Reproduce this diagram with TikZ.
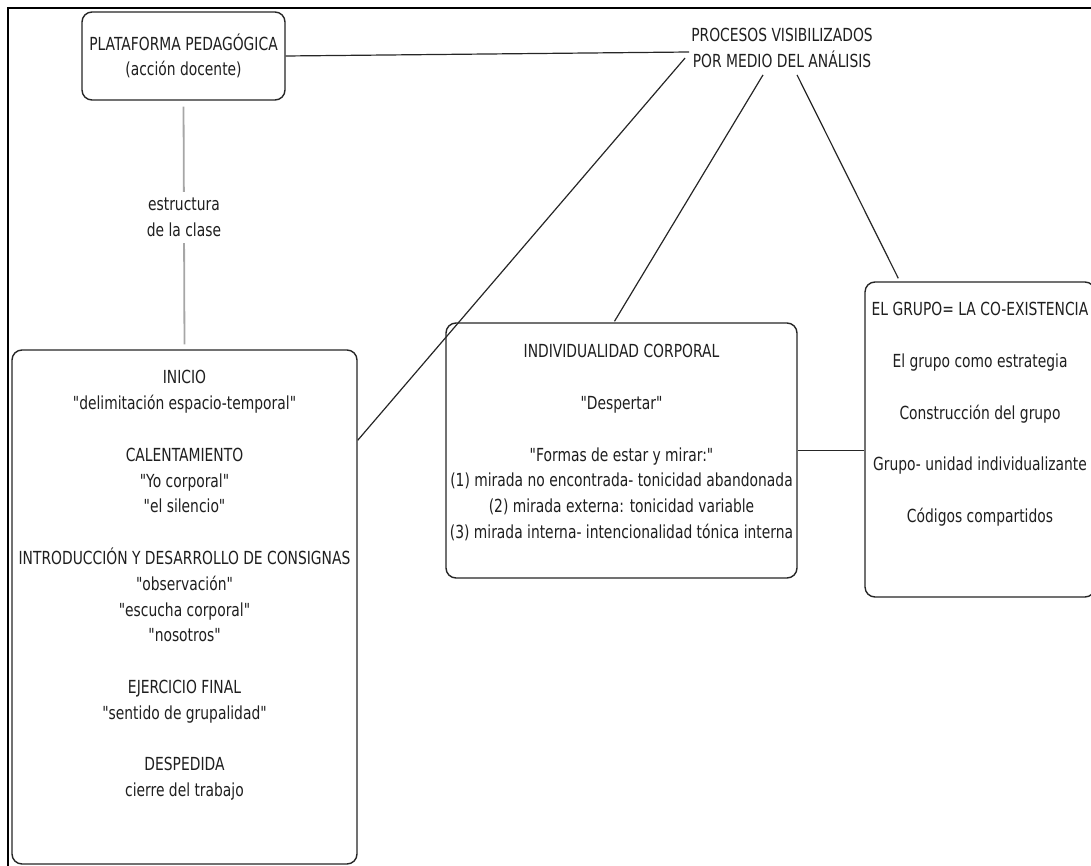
\documentclass[tikz,border=0pt]{standalone}
\usepackage{fontspec}
\setmainfont{DejaVu Sans}[FakeStretch=0.77, Ligatures=TeXOff]
\usetikzlibrary{calc}
\tikzset{
  box/.style={draw=black!85, line width=1.4pt, rounded corners=10pt, fill=white, inner sep=0pt},
  txt/.style={align=center, inner sep=0pt, text=black!88, font=\fontsize{18}{25.8}\selectfont},
  conn/.style={draw=black!85, line width=1.2pt},
  greyconn/.style={draw=black!35, line width=1.8pt}
}
\begin{document}
\begin{tikzpicture}[x=1pt,y=-1pt]
\useasboundingbox (0,0) rectangle (1091,866);
% outer frame
\draw[line width=2pt, black] (8,880) -- (8,8) -- (1100,8);

% boxes
\node[box, minimum width=203pt, minimum height=88pt] (plat) at (183.5,56) {};
\node[txt, anchor=north] (plattext) at ($(plat.north)+(0,22)$) {PLATAFORMA PEDAGÓGICA\\(acción docente)};

\node[txt, inner sep=2pt] (proc) at (782,48) {PROCESOS VISIBILIZADOS\\POR MEDIO DEL ANÁLISIS};

\node[box, minimum width=345pt, minimum height=514pt] (left) at (184.5,607) {};
\node[txt, anchor=north] (lefttext) at ($(left.north)+(0,21)$) {INICIO\\"delimitación espacio-temporal"\\[25.8pt]
CALENTAMIENTO\\"Yo corporal"\\"el silencio"\\[25.8pt]
INTRODUCCIÓN Y DESARROLLO DE CONSIGNAS\\"observación"\\"escucha corporal"\\"nosotros"\\[25.8pt]
EJERCICIO FINAL\\"sentido de grupalidad"\\[25.8pt]
DESPEDIDA\\cierre del trabajo};

\node[box, minimum width=351pt, minimum height=255pt] (indiv) at (621.5,450.5) {};
\node[txt, anchor=north] (indivtext) at ($(indiv.north)+(0,22)$) {INDIVIDUALIDAD CORPORAL\\[25.8pt]
"Despertar"\\[25.8pt]
"Formas de estar y mirar:"\\(1) mirada no encontrada- tonicidad abandonada\\(2) mirada externa: tonicidad variable\\(3) mirada interna- intencionalidad tónica interna};

\node[box, minimum width=230pt, minimum height=315pt] (grp) at (980,439.5) {};
\node[txt, anchor=north] (grptext) at ($(grp.north)+(0,21)$) {EL GRUPO= LA CO-EXISTENCIA\\[25.8pt]
El grupo como estrategia\\[25.8pt]
Construcción del grupo\\[25.8pt]
Grupo- unidad individualizante\\[25.8pt]
Códigos compartidos};

% connectors
\draw[greyconn, shorten <=6pt, shorten >=5pt] (plat.south) -- node[txt, fill=white, inner ysep=6pt, inner xsep=2pt, pos=0.47] (estr) {estructura\\de la clase} (left.north);
\draw[conn] (plat.east) -- ($(proc.west)+(0,4)$);
\draw[conn] ($(proc.west)+(-4,10)$) -- ($(left.north east)+(0,91)$);
\draw[conn] ($(proc.south)+(-19,5)$) -- ($(indiv.north)+(-7,-1)$);
\draw[conn] ($(proc.south)+(15,5)$) -- ($(grp.north west)+(34,-3)$);
\draw[conn] (indiv.east) -- (indiv.east -| grp.west);
\end{tikzpicture}
\end{document}
